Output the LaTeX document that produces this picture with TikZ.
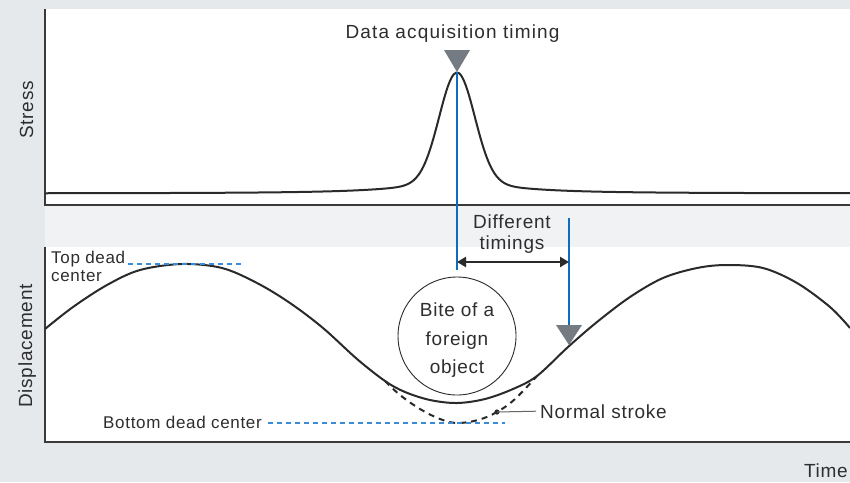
\documentclass[tikz,border=0pt]{standalone}
\usepackage{fontspec}
\setmainfont{Liberation Sans}[LetterSpace=4]
\newfontfamily\widefont{Liberation Sans}[LetterSpace=6]
\usetikzlibrary{arrows.meta}
\definecolor{bgouter}{HTML}{E6E9EC}
\definecolor{bandc}{HTML}{F1F2F4}
\definecolor{textc}{HTML}{2E2E2E}
\definecolor{axisc}{HTML}{3A3A3A}
\definecolor{curvec}{HTML}{2A2A2A}
\definecolor{bluec}{HTML}{0F6DC0}
\definecolor{dashblue}{HTML}{3A8CD6}
\definecolor{trigray}{HTML}{747B82}
\definecolor{leaderc}{HTML}{666666}
\tikzset{
  lbl/.style={text=textc, inner sep=0pt, font=\fontsize{19}{22}\selectfont},
  smalllbl/.style={text=textc, inner sep=0pt, font=\fontsize{17}{18.6}\selectfont},
  axisline/.style={draw=axisc, line width=1.5pt},
  curve/.style={draw=curvec, line width=2pt, line join=round},
  normaldash/.style={draw=curvec, line width=2pt, dash pattern=on 6pt off 5pt},
  bluel/.style={draw=bluec, line width=1.1pt},
  levelline/.style={draw=dashblue, line width=1.1pt, dash pattern=on 5pt off 4pt},
  marker/.style={fill=trigray, draw=none},
  timingarrow/.style={draw=curvec, line width=2.6pt, {Triangle[length=9pt,width=10pt]}-{Triangle[length=9pt,width=10pt]}},
  bitecircle/.style={circle, draw=curvec, line width=0.9pt, minimum size=118pt, inner sep=0pt},
}
\begin{document}
\begin{tikzpicture}[x=1pt,y=-1pt]
\useasboundingbox (0,0) rectangle (850,482);
% backgrounds
\fill[bgouter] (0,0) rectangle (850,482);
\fill[white] (45,9) rectangle (850,205);
\fill[bandc] (45,205) rectangle (850,247);
\fill[white] (45,247) rectangle (850,442);

% axes
\coordinate (sTop) at (45,9);
\coordinate (sOrig) at (45,205);
\coordinate (sEnd) at (850,205);
\coordinate (dTop) at (45,247);
\coordinate (dOrig) at (45,442);
\coordinate (dEnd) at (850,442);
\draw[axisline] (sTop) -- (sOrig) -- (sEnd);
\draw[axisline] (dTop) -- (dOrig) -- (dEnd);

% axis labels
\node[lbl, rotate=90, anchor=base] (stress) at (33,110) {Stress};
\node[lbl, rotate=90, anchor=base] (displ) at (32,346) {Displacement};
\node[lbl, anchor=base east] (time) at (848,477) {Time};

% stress curve
\draw[curve] plot[domain=45:850, samples=320, smooth]
  (\x, {193.5 - 109*exp(-min(((\x-457)/25)^2, 12)) - 12/(1+((\x-457)/60)^2)});

% displacement: normal stroke (dashed)
\draw[normaldash] plot[smooth, tension=0.6] coordinates {
  (385,381) (400,395) (420,409) (440,419) (457,423) (478,420) (497,412) (515,399) (537,376)};

% displacement: actual stroke (solid)
\draw[curve] plot[smooth, tension=0.55] coordinates {
  (45,329) (73,307) (107,285) (140,270) (182,264) (222,268) (257,283) (290,303)
  (323,328) (357,359) (385,381) (405,392) (430,400) (457,403) (485,399) (513,389)
  (537,376) (568,347) (597,322) (630,297) (663,278) (697,268) (727,265) (763,268)
  (797,283) (830,307) (850,328)};

% dead center levels
\node[smalllbl, anchor=north west, align=left] (tdc) at (51,250.5) {Top dead\\center};
\coordinate (tdcA) at (128,264);
\coordinate (tdcB) at (242,264);
\draw[levelline] (tdcA) -- (tdcB);
\node[smalllbl, anchor=base east] (bdc) at (262,428) {Bottom dead center};
\coordinate (bdcA) at (268,423);
\coordinate (bdcB) at (505,423);
\draw[levelline] (bdcA) -- (bdcB);

% timing lines
\coordinate (tip1) at (457,72);
\coordinate (line1end) at (457,270);
\coordinate (line2start) at (569,218);
\coordinate (tip2) at (569,345);
\draw[bluel] (tip1) -- (line1end);
\draw[bluel] (line2start) -- (569,330);
\fill[marker] (444,50) -- (470,50) -- (tip1) -- cycle;
\fill[marker] (556,325) -- (582,325) -- (tip2) -- cycle;

\node[lbl, anchor=base] (dat) at (452.5,38) {\widefont Data acquisition timing};

% different timings
\coordinate (arrL) at (457,262);
\coordinate (arrR) at (569,262);
\draw[timingarrow] (arrL) -- (arrR);
\node[lbl, align=center, font=\fontsize{19}{21}\selectfont] (diff) at (512,234.5) {Different\\timings};

% bite
\node[bitecircle] (bite) at (457,336) {};
\node[lbl, align=center, font=\fontsize{19}{28.5}\selectfont] (bitetxt) at (457,340.5) {Bite of a\\foreign\\object};

% normal stroke label
\coordinate (nsdot) at (497,412);
\fill[curvec] (nsdot) circle (2.6pt);
\node[lbl, anchor=base west] (normal) at (540,418) {Normal stroke};
\draw[draw=leaderc, line width=1pt] (nsdot) -- ([xshift=-4pt]normal.west);
\end{tikzpicture}
\end{document}
